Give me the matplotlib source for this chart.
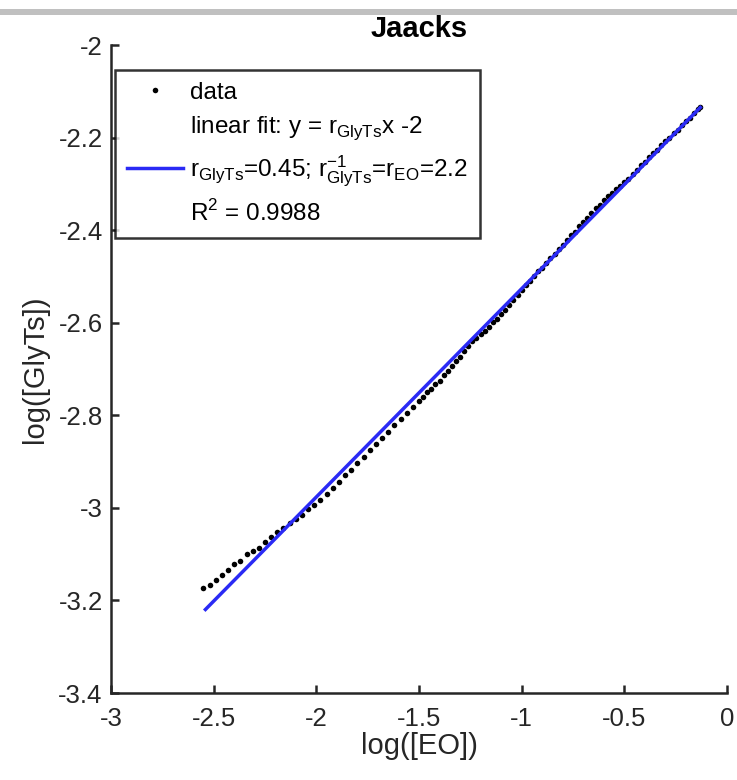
import matplotlib
matplotlib.use("Agg")
import matplotlib.pyplot as plt
from matplotlib.patches import Rectangle
import numpy as np

plt.rcParams['font.family'] = ['Liberation Sans', 'DejaVu Sans']
plt.rcParams['mathtext.fontset'] = 'custom'
plt.rcParams['mathtext.rm'] = 'Liberation Sans'
plt.rcParams['axes.unicode_minus'] = False

# log([EO]) vs log([GlyTs]) measurements
log_eo = [-2.55, -2.52, -2.49, -2.46, -2.43, -2.40, -2.37, -2.34, -2.31, -2.28,
          -2.25, -2.22, -2.19, -2.16, -2.13, -2.10, -2.07, -2.04, -2.01, -1.98,
          -1.95, -1.92, -1.89, -1.86, -1.83, -1.80, -1.77, -1.74, -1.71, -1.68,
          -1.65, -1.62, -1.59, -1.56, -1.53,
          -1.50, -1.48, -1.46, -1.44, -1.42, -1.40, -1.38, -1.36, -1.34, -1.32,
          -1.30, -1.28, -1.26, -1.24, -1.22, -1.20, -1.18, -1.16, -1.14, -1.12,
          -1.10, -1.08, -1.06, -1.04, -1.02, -1.00, -0.98, -0.96, -0.94, -0.92,
          -0.90, -0.88, -0.86, -0.84, -0.82, -0.80, -0.78, -0.76, -0.74, -0.72,
          -0.70, -0.68, -0.66, -0.64, -0.62, -0.60, -0.58, -0.56, -0.54, -0.52,
          -0.50, -0.48, -0.46, -0.44, -0.42, -0.40, -0.38, -0.36, -0.34, -0.32,
          -0.30, -0.28, -0.26, -0.24, -0.22, -0.20, -0.18, -0.16, -0.14, -0.13]
log_glyts = [-3.174, -3.166, -3.155, -3.146, -3.134, -3.122, -3.114, -3.100, -3.093, -3.086,
             -3.074, -3.062, -3.052, -3.043, -3.033, -3.024, -3.015, -3.003, -2.993, -2.982,
             -2.970, -2.956, -2.945, -2.930, -2.918, -2.902, -2.891, -2.876, -2.863, -2.848,
             -2.836, -2.820, -2.808, -2.796, -2.782,
             -2.769, -2.761, -2.750, -2.743, -2.733, -2.725, -2.713, -2.705, -2.694, -2.683,
             -2.673, -2.661, -2.650, -2.639, -2.632, -2.625, -2.617, -2.609, -2.599, -2.592,
             -2.582, -2.572, -2.561, -2.550, -2.540, -2.530, -2.519, -2.509, -2.499, -2.489,
             -2.481, -2.470, -2.460, -2.451, -2.440, -2.432, -2.421, -2.411, -2.403, -2.392,
             -2.382, -2.374, -2.363, -2.353, -2.345, -2.334, -2.326, -2.319, -2.312, -2.305,
             -2.297, -2.289, -2.279, -2.271, -2.260, -2.253, -2.243, -2.233, -2.226, -2.216,
             -2.208, -2.200, -2.190, -2.183, -2.173, -2.165, -2.157, -2.147, -2.139, -2.135]

# fitted line: slope r_GlyTs and offset
fit_slope = 0.45
fit_offset = -2.0765
fit_x = [-2.54, -0.13]

x_ticks = [-3, -2.5, -2, -1.5, -1, -0.5, 0]
x_ticklabels = ['-3', '-2.5', '-2', '-1.5', '-1', '-0.5', '0']
y_ticks = [-3.4, -3.2, -3, -2.8, -2.6, -2.4, -2.2, -2]
y_ticklabels = ['-3.4', '-3.2', '-3', '-2.8', '-2.6', '-2.4', '-2.2', '-2']

dark = '#262626'

fig = plt.figure(figsize=(7.37, 7.80), dpi=100)
fig.patches.append(Rectangle((0, 0.981), 1, 0.008, transform=fig.transFigure,
                             facecolor='#c0c0c0', edgecolor='none'))
ax = fig.add_axes([0.1506, 0.1115, 0.8358, 0.8308])

ax.plot(log_eo, log_glyts, 'o', color='black', ms=4.0, mew=0, label='data')
ax.plot([], [], ls='none', label=r'linear fit: y = r$_\mathregular{GlyTs}$x -2')
yfit = np.polyval([fit_slope, fit_offset], fit_x)
ax.plot(fit_x, yfit, color='#2a2af5', lw=2.5,
        label=r'r$_\mathregular{GlyTs}$=0.45; r$^\mathregular{-1}_\mathregular{GlyTs}$=r$_\mathregular{EO}$=2.2')
ax.plot([], [], ls='none', label=r'R$^\mathregular{2}$ = 0.9988')

ax.set_xlim(-3, 0)
ax.set_ylim(-3.4, -2)
ax.set_xticks(x_ticks, x_ticklabels)
ax.set_yticks(y_ticks, y_ticklabels)
for s in ['top', 'right']:
    ax.spines[s].set_visible(False)
for s in ['left', 'bottom']:
    ax.spines[s].set_linewidth(1.8)
    ax.spines[s].set_color(dark)
ax.tick_params(direction='in', length=6, width=1.8, color=dark,
               labelcolor=dark, labelsize=18.5)
ax.tick_params(axis='x', pad=10)
ax.tick_params(axis='y', pad=6)

ax.set_xlabel('log([EO])', fontsize=21, color=dark, labelpad=1)
ax.set_ylabel('log([GlyTs])', fontsize=21, color=dark, labelpad=7)
ax.set_title('Jaacks', fontsize=21, fontweight='bold', pad=6)

leg = ax.legend(loc='upper left', bbox_to_anchor=(0.006, 0.962), fontsize=17.5,
                frameon=True, fancybox=False, edgecolor='black',
                handlelength=2.3, handletextpad=0.3, labelspacing=0.45,
                borderpad=0.5, borderaxespad=0)
leg.get_frame().set_linewidth(1.8)

fig.savefig('out.png', dpi=100)
